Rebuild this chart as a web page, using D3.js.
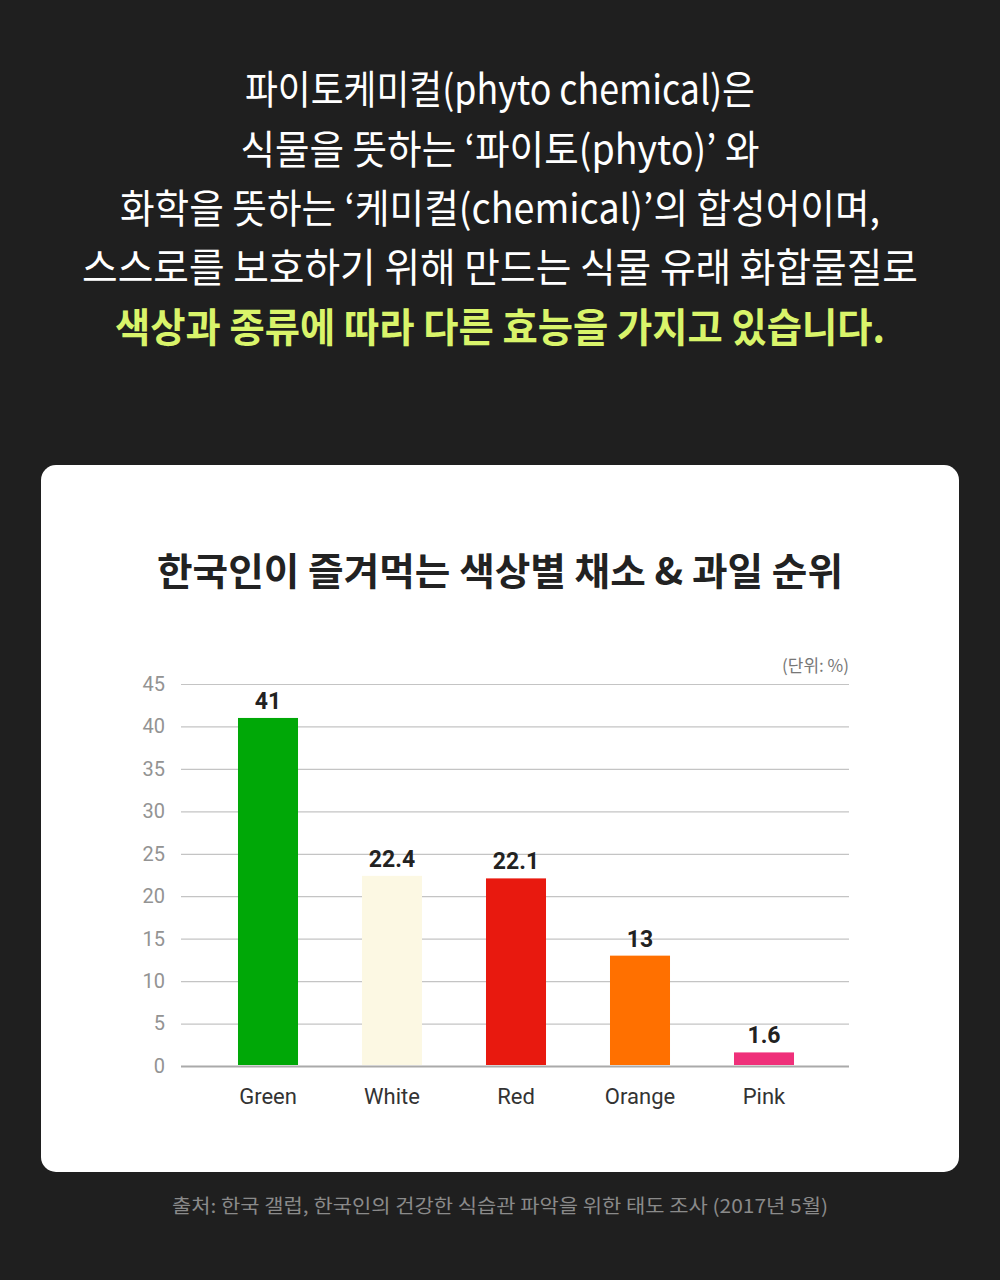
<!DOCTYPE html>
<html><head><meta charset="utf-8">
<script src="https://cdn.jsdelivr.net/npm/d3@7"></script>
<style>html,body{margin:0;padding:0;background:#1f1f1f;}svg{display:block;}</style>
</head><body>
<script>
const headerLines = ["파이토케미컬(phyto chemical)은","식물을 뜻하는 ‘파이토(phyto)’ 와","화학을 뜻하는 ‘케미컬(chemical)’의 합성어이며,","스스로를 보호하기 위해 만드는 식물 유래 화합물질로","색상과 종류에 따라 다른 효능을 가지고 있습니다."];
const chartTitle = "한국인이 즐겨먹는 색상별 채소 & 과일 순위";
const unitLabel = "(단위: %)";
const sourceText = "출처: 한국 갤럽, 한국인의 건강한 식습관 파악을 위한 태도 조사 (2017년 5월)";
const categories = ["Green","White","Red","Orange","Pink"];
const values = [41, 22.4, 22.1, 13, 1.6];
const barColors = ["#00a807","#fcf8e3","#e8190f","#ff7000","#ef307a"];
const yTicks = [0,5,10,15,20,25,30,35,40,45];

const W = 1000, H = 1280;
const svg = d3.select("body").append("svg").attr("width", W).attr("height", H);
svg.append("rect").attr("width", W).attr("height", H).attr("fill", "#1f1f1f");

const font = "'Noto Sans CJK KR', 'Noto Sans', sans-serif";
const latin = "Roboto, 'Noto Sans', sans-serif";
// header
const headerY = [90,150,209,268,328];
const headerW = [510,519,760,836,770];
headerLines.forEach((t,i)=>{
  svg.append("text").attr("x",500).attr("y",headerY[i]).attr("dy","0.36em")
    .attr("text-anchor","middle").attr("font-family",font)
    .attr("font-size",40).attr("font-weight", i===4?700:400)
    .attr("fill", i===4?"#d9f46a":"#ffffff")
    .attr("textLength",headerW[i]).attr("lengthAdjust","spacingAndGlyphs")
    .text(t);
});

// card
svg.append("rect").attr("x",41).attr("y",465).attr("width",918).attr("height",707)
  .attr("rx",15).attr("fill","#ffffff");

svg.append("text").attr("x",500).attr("y",571).attr("dy","0.36em")
  .attr("text-anchor","middle").attr("font-family",font).attr("font-weight",700)
  .attr("font-size",38).attr("fill","#222").attr("textLength",686)
  .attr("lengthAdjust","spacingAndGlyphs").text(chartTitle);

const y = d3.scaleLinear().domain([0,45]).range([1066,684]);
const x = d3.scaleBand().domain(categories).range([206,826]).paddingInner(0.516).paddingOuter(0.258);

// grid
const gridLeft = 181, gridRight = 849;
const yAxis = d3.axisLeft(y).tickValues(yTicks).tickSize(-(gridRight-gridLeft)).tickPadding(16);
const gy = svg.append("g").attr("transform",`translate(${gridLeft},0)`).call(yAxis);
gy.select(".domain").remove();
gy.selectAll(".tick line").attr("stroke","#c4c4c4").attr("stroke-width",1.2);
gy.selectAll(".tick").filter(d=>d===0).select("line").attr("stroke","#aaaaaa").attr("stroke-width",2);
gy.selectAll(".tick text").attr("font-family",latin).attr("font-size",20).attr("fill","#939393");

svg.append("text").attr("x",849).attr("y",666).attr("dy","0.35em").attr("text-anchor","end")
  .attr("font-family",font).attr("font-size",17).attr("fill","#777").text(unitLabel);

// bars
svg.append("g").selectAll("rect").data(categories).join("rect")
  .attr("x",d=>x(d)).attr("width",x.bandwidth())
  .attr("y",(d,i)=>y(values[i])).attr("height",(d,i)=>y(0)-y(values[i])-1)
  .attr("fill",(d,i)=>barColors[i]);

svg.append("g").selectAll("text").data(categories).join("text")
  .attr("x",d=>x(d)+x.bandwidth()/2).attr("y",(d,i)=>y(values[i])-9)
  .attr("text-anchor","middle").attr("font-family",latin).attr("font-weight",700)
  .attr("font-size",23).attr("fill","#222").text((d,i)=>values[i]);

// x labels
const xAxis = d3.axisBottom(x).tickSize(0).tickPadding(22);
const gx = svg.append("g").attr("transform","translate(0,1066)").call(xAxis);
gx.select(".domain").remove();
gx.selectAll(".tick text").attr("font-family",latin).attr("font-size",22).attr("fill","#333");

svg.append("text").attr("x",500).attr("y",1206).attr("dy","0.35em").attr("text-anchor","middle")
  .attr("font-family",font).attr("font-size",19).attr("fill","#8a8a8a")
  .attr("textLength",656).attr("lengthAdjust","spacingAndGlyphs").text(sourceText);
</script>
</body></html>
